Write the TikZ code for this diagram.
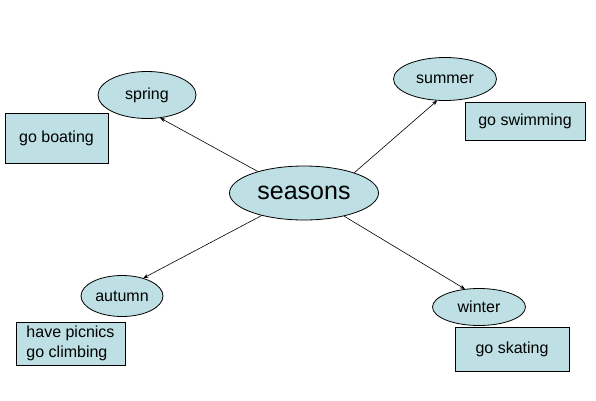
\documentclass[tikz,border=0pt]{standalone}
\usepackage{fontspec}
\setmainfont{Liberation Sans}
\usetikzlibrary{shapes.geometric,arrows.meta}
\definecolor{fillblue}{RGB}{190,224,228}
\tikzset{
  topic/.style={ellipse, draw=black, line width=0.8pt, fill=fillblue, inner sep=0pt, font=\fontsize{16}{19}\selectfont},
  activity/.style={rectangle, draw=black, line width=0.8pt, fill=fillblue, inner sep=0pt, font=\fontsize{16}{20}\selectfont, align=left},
  link/.style={draw=black, line width=0.6pt, -{Stealth[length=5pt,width=4pt]}}
}
\begin{document}
\begin{tikzpicture}[x=1pt,y=-1pt]
\useasboundingbox[fill=white] (0,0) rectangle (596,400);
\node[topic, minimum width=149pt, minimum height=54pt, font=\fontsize{25}{30}\selectfont] (seasons) at (304,193) {seasons};
\node[topic, minimum width=98pt, minimum height=47pt] (spring) at (147,95) {spring};
\node[topic, minimum width=103pt, minimum height=43pt] (summer) at (445,79) {summer};
\node[topic, minimum width=82pt, minimum height=41pt] (autumn) at (122,296) {autumn};
\node[topic, minimum width=93pt, minimum height=37pt] (winter) at (479,307) {winter};
\node[activity, minimum width=103pt, minimum height=50pt] (boating) at (56.5,138) {go boating};
\node[activity, minimum width=120pt, minimum height=38pt] (swimming) at (525,121) {go swimming};
\node[activity, minimum width=109pt, minimum height=43pt] (picnics) at (70.5,343.5) {have picnics\\go climbing};
\node[activity, minimum width=114pt, minimum height=44pt] (skating) at (512,349) {go skating};
\draw[link] (seasons.155) -- (spring.300);
\draw[link] (seasons.22) -- (summer.250);
\draw[link] (seasons.208) -- (autumn.40);
\draw[link] (seasons.330) -- (winter.128);
\end{tikzpicture}
\end{document}
